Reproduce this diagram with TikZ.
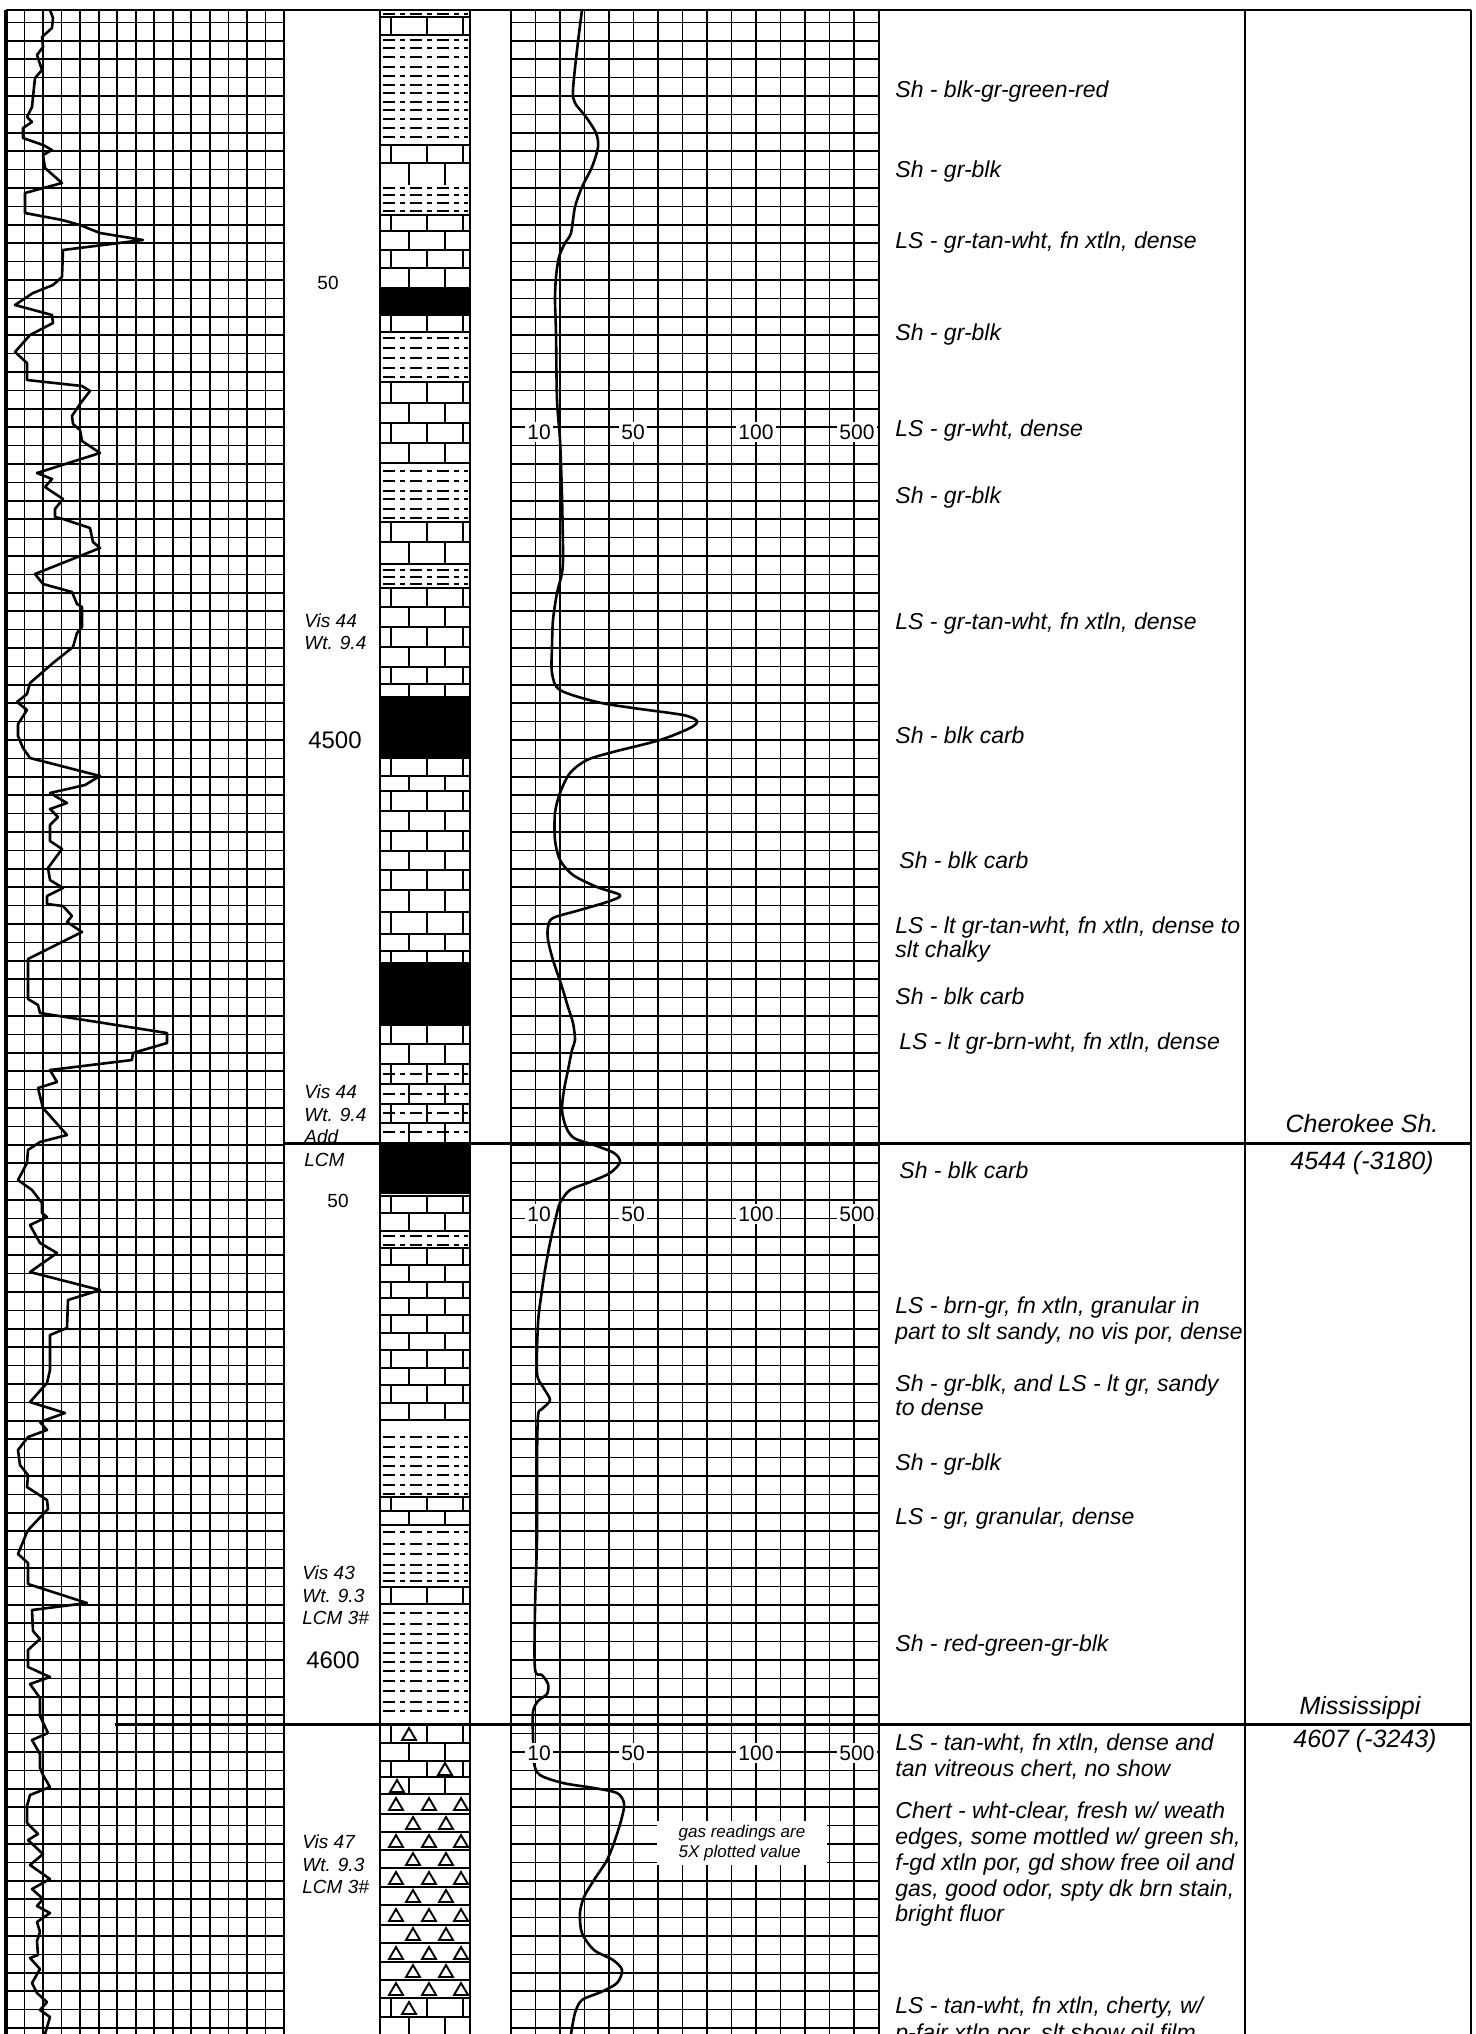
\documentclass[tikz,border=0pt]{standalone}
\usepackage{fontspec}
\setmainfont{Liberation Sans}
\newcommand\lsA[2]{\draw[lith] (380,#1) -- (470,#1) (391,#1) -- (391,#2) (427,#1) -- (427,#2) (463,#1) -- (463,#2);}
\newcommand\lsB[2]{\draw[lith] (380,#1) -- (470,#1) (409,#1) -- (409,#2) (445,#1) -- (445,#2);}
\newcommand\lsline[1]{\draw[lith] (380,#1) -- (470,#1);}
\newcommand\shlines[1]{\foreach \sy in {#1}{\draw[shaledash] (383,\sy) -- (468,\sy);}}
\newcommand\blkbed[2]{\fill[black] (380,#1) rectangle (470,#2);}
\newcommand\slmid[1]{\draw[shaledash] (383,#1) -- (468,#1);}
\newcommand\trg[2]{\draw[lith] ({#1-7},{#2+6}) -- (#1,{#2-6}) -- ({#1+7},{#2+6}) -- cycle;}
\newcommand\chthree[2]{\lsline{#1}\trg{396}{#2}\trg{429}{#2}\trg{461}{#2}}
\newcommand\chtwo[2]{\lsline{#1}\trg{413}{#2}\trg{446}{#2}}
\begin{document}
\begin{tikzpicture}[x=0.5pt,y=-0.5pt,
  gthin/.style={line width=0.8pt},
  gheavy/.style={line width=1.4pt},
  gmid/.style={line width=0.95pt},
  colborder/.style={line width=1.3pt},
  lith/.style={line width=0.95pt},
  shaledash/.style={line width=1.0pt, dash pattern=on 6pt off 2.5pt on 2.5pt off 2.5pt},
  logcurve/.style={line width=1.3pt, line join=round, line cap=round},
  formline/.style={line width=1.5pt},
  desc/.style={font=\fontsize{11.5}{13}\selectfont\itshape, anchor=base west, inner sep=0pt},
  fmt/.style={font=\fontsize{12.5}{14}\selectfont\itshape, anchor=base, inner sep=0pt},
  mud/.style={font=\fontsize{9.5}{11}\selectfont\itshape, anchor=base west, inner sep=0pt},
  dsmall/.style={font=\fontsize{9.5}{11}\selectfont, anchor=base, inner sep=0pt},
  dbig/.style={font=\fontsize{12}{14}\selectfont, anchor=base, inner sep=0pt},
  glbl/.style={font=\fontsize{10.5}{12}\selectfont, fill=white, inner sep=1.2pt}
]
\useasboundingbox (0,0) rectangle (1476,2034);
\begin{scope}
\clip (0,0) rectangle (1476,2034);
\fill[white] (0,0) rectangle (1476,2034);

% ---------- depth grid (left track and gas track) ----------
\foreach \k in {1,...,110}{
  \pgfmathsetmacro\gy{280+(2*\k-30)*9.2}
  \pgfmathtruncatemacro\hv{mod(\k,5)}
  \ifnum\hv=0
    \draw[gheavy] (6,\gy) -- (284,\gy) (511,\gy) -- (879,\gy);
  \else
    \draw[gthin] (6,\gy) -- (284,\gy) (511,\gy) -- (879,\gy);
  \fi
}
\foreach \i in {1,...,14}{\draw[gthin] ({6+18.53*\i},10) -- ({6+18.53*\i},2034);}
\foreach \i in {5,10}{\draw[gmid] ({6+18.53*\i},10) -- ({6+18.53*\i},2034);}
\foreach \i in {1,...,14}{\draw[gthin] ({511+24.5*\i},10) -- ({511+24.5*\i},2034);}
\foreach \i in {5,10,14}{\draw[gmid] ({511+24.5*\i},10) -- ({511+24.5*\i},2034);}

% ---------- lithology column ----------
\shlines{14}
\lsA{17}{35} \lsline{35}
\shlines{40,48,57,67,76,85,93,102,110,119,128,137}
\lsA{145}{163} \lsB{163}{185}
\shlines{188,195,203,211}
\lsA{215}{231} \lsB{231}{250} \lsA{250}{268} \lsB{268}{287}
\blkbed{287}{315}
\lsA{315}{332} \lsline{332}
\shlines{338,348,358,368,377}
\lsA{382}{403} \lsB{403}{423} \lsA{423}{443} \lsB{443}{463} \lsline{463}
\shlines{471,481,491,499,509,518}
\lsA{522}{542} \lsB{542}{564} \lsline{564}
\shlines{570,577,584}
\lsA{588}{607} \lsB{607}{627} \lsA{627}{647} \lsB{647}{667} \lsA{667}{684} \lsB{684}{696}
\blkbed{696}{757}
\lsA{758}{776} \lsB{776}{791} \lsA{791}{811} \lsB{811}{831} \lsA{831}{851} \lsB{851}{870}
\lsA{870}{890} \lsB{890}{912} \lsA{912}{934} \lsB{934}{951} \lsA{951}{962}
\blkbed{962}{1024}
\lsA{1025}{1044} \lsB{1044}{1064}
\lsA{1064}{1084} \slmid{1074} \lsB{1084}{1104} \slmid{1094}
\lsA{1104}{1123} \slmid{1113} \lsB{1123}{1142} \slmid{1132}
\blkbed{1143}{1194}
\lsA{1196}{1213} \lsB{1213}{1231} \lsline{1231}
\shlines{1236,1245}
\lsA{1248}{1265} \lsB{1265}{1282} \lsA{1282}{1298} \lsB{1298}{1315} \lsA{1315}{1333}
\lsB{1333}{1350} \lsA{1350}{1368} \lsB{1368}{1385} \lsA{1385}{1403} \lsB{1403}{1420} \lsline{1420}
\shlines{1437,1447,1457,1466,1475,1485,1494}
\lsA{1497}{1511} \lsB{1511}{1525} \lsline{1525}
\shlines{1532,1544,1554,1565,1573,1581}
\lsA{1587}{1604} \lsline{1604}
\shlines{1613,1624,1634,1643,1653,1662,1671,1681,1691,1702,1711}
\lsA{1725}{1743} \trg{409}{1734}
\lsB{1743}{1761}
\lsA{1761}{1777} \trg{445}{1769}
\lsB{1777}{1794} \trg{397}{1786}
\chthree{1794}{1804} \chtwo{1814}{1823} \chthree{1832}{1841} \chtwo{1850}{1859}
\chthree{1868}{1878} \chtwo{1887}{1896} \chthree{1905}{1915} \chtwo{1925}{1934}
\chthree{1943}{1953} \chtwo{1962}{1971} \chthree{1980}{1989}
\lsA{1998}{2017} \trg{409}{2008}
\lsB{2017}{2034}

% ---------- drill-time curve (left track) ----------
\draw[logcurve] plot[sharp plot] coordinates {(50,10) (53,18) (52,28) (42,37) (43,47) (37,55) (42,70) (35,78) (33,97) (32,107) (27,117) (32,122) (23,128) (23,138) (43,145) (52,150) (43,155) (45,168) (62,183) (25,193) (25,213) (62,220) (80,225) (100,233) (143,240) (63,250) (62,277) (53,285) (33,293) (15,305) (52,315) (53,323) (30,335) (15,352) (27,363) (27,380) (82,386) (90,391) (80,404) (72,416) (73,424) (80,430) (82,441) (100,453) (37,473) (52,479) (45,487) (63,499) (55,509) (55,517) (63,519) (90,528) (93,542) (100,548) (35,574) (43,584) (72,592) (77,604) (82,607) (82,627) (77,633) (73,647) (53,663) (30,683) (27,694) (17,702) (27,710) (18,724) (18,736) (23,748) (30,758) (100,776) (85,785) (50,793) (67,803) (50,809) (58,817) (50,825) (50,841) (62,849) (48,868) (50,880) (63,888) (47,896) (47,904) (63,906) (72,916) (67,922) (82,932) (50,948) (28,959) (28,999) (38,1005) (40,1013) (167,1033) (167,1043) (133,1053) (132,1060) (50,1070) (57,1082) (38,1088) (43,1108) (67,1135) (40,1142) (28,1150) (27,1163) (18,1180) (32,1190) (42,1203) (42,1213) (47,1217) (30,1225) (40,1243) (57,1253) (30,1272) (100,1290) (68,1300) (67,1328) (50,1335) (50,1370) (47,1383) (30,1402) (65,1413) (40,1422) (47,1430) (28,1437) (18,1450) (20,1465) (28,1475) (27,1487) (47,1500) (48,1509) (30,1528) (27,1532) (18,1554) (28,1563) (28,1584) (87,1603) (32,1610) (33,1631) (40,1639) (28,1650) (28,1667) (50,1677) (30,1684) (40,1698) (40,1716) (48,1733) (32,1740) (40,1754) (40,1768) (43,1775) (50,1787) (30,1795) (27,1806) (27,1823) (38,1834) (28,1840) (43,1854) (30,1865) (50,1879) (32,1889) (43,1899) (37,1906) (50,1913) (37,1922) (40,1932) (37,1941) (38,1955) (30,1958) (40,1969) (32,1983) (37,1993) (47,2002) (40,2010) (50,2017) (45,2034)};

% ---------- gas curve ----------
\draw[logcurve] plot[smooth, tension=0.5] coordinates {(582,10) (577,50) (573,90) (575,103) (586,117) (596,133) (598,147) (592,167) (582,187) (575,207) (571,233) (565,243) (559,257) (556,277) (555,300) (556,333) (557,400) (560,440) (562,497) (563,553) (562,573) (557,593) (553,620) (552,647) (552,673) (560,690) (597,702) (633,708) (683,715) (697,721) (690,728) (660,740) (613,752) (587,760) (570,773) (560,793) (555,813) (555,840) (560,860) (573,875) (597,887) (620,895) (610,901) (580,910) (553,918) (548,927) (548,940) (553,960) (562,987) (568,1007) (573,1023) (575,1040) (572,1050) (568,1070) (564,1090) (562,1110) (566,1127) (574,1138) (594,1145) (614,1153) (620,1162) (610,1173) (590,1182) (570,1190) (560,1203) (556,1217) (550,1243) (545,1270) (541,1297) (538,1323) (537,1373) (543,1387) (550,1400) (542,1409) (538,1416) (537,1466) (537,1537) (535,1609) (535,1669) (542,1675) (548,1684) (547,1694) (538,1701) (533,1712) (533,1737) (534,1763) (540,1775) (563,1783) (594,1788) (617,1793) (624,1803) (622,1817) (615,1840) (607,1860) (594,1880) (584,1897) (580,1913) (582,1933) (594,1950) (613,1960) (622,1970) (617,1983) (601,1992) (582,2000) (575,2013) (571,2034)};

% ---------- column borders ----------
\draw[colborder] (6,10) -- (1471,10);
\draw[line width=2pt] (6,10) -- (6,2034);
\draw[colborder] (284,10) -- (284,2034);
\draw[colborder] (380,10) -- (380,2034);
\draw[colborder] (470,10) -- (470,2034);
\draw[colborder] (511,10) -- (511,2034);
\draw[colborder] (879,10) -- (879,2034);
\draw[colborder] (1245,10) -- (1245,2034);
\draw[colborder] (1471,10) -- (1471,2034);

% ---------- gas scale labels ----------
\foreach \ly/\nm in {432/a,1214/b,1753/c}{
  \node[glbl] (g10\nm) at (539,\ly) {10};
  \node[glbl] (g50\nm) at (633,\ly) {50};
  \node[glbl] (g100\nm) at (756,\ly) {100};
  \node[glbl] (g500\nm) at (857,\ly) {500};
}
\node[fill=white, align=left, inner xsep=11pt, inner ysep=2pt,
      font=\fontsize{8.5}{10}\selectfont\itshape] (gasnote) at (742,1843) {gas readings are\\5X plotted value};

% ---------- depth column ----------
\node[dsmall] (d4450) at (328,289) {50};
\node[dbig] (d4500) at (335,748) {4500};
\node[dsmall] (d4550) at (338,1207) {50};
\node[dbig] (d4600) at (333,1668) {4600};
\node[mud] (m1a) at (304,627) {Vis 44};
\node[mud] (m1b) at (304,649) {Wt. 9.4};
\node[mud] (m2a) at (304,1098) {Vis 44};
\node[mud] (m2b) at (304,1121) {Wt. 9.4};
\node[mud] (m2c) at (304,1143) {Add};
\node[mud] (m2d) at (304,1166) {LCM};
\node[mud] (m3a) at (302,1579) {Vis 43};
\node[mud] (m3b) at (302,1602) {Wt. 9.3};
\node[mud] (m3c) at (302,1624) {LCM 3\#};
\node[mud] (m4a) at (302,1848) {Vis 47};
\node[mud] (m4b) at (302,1871) {Wt. 9.3};
\node[mud] (m4c) at (302,1893) {LCM 3\#};

% ---------- descriptions ----------
\node[desc] (t1) at (895,97) {Sh - blk-gr-green-red};
\node[desc] (t2) at (895,177) {Sh - gr-blk};
\node[desc] (t3) at (895,248) {LS - gr-tan-wht, fn xtln, dense};
\node[desc] (t4) at (895,340) {Sh - gr-blk};
\node[desc] (t5) at (895,436) {LS - gr-wht, dense};
\node[desc] (t6) at (895,503) {Sh - gr-blk};
\node[desc] (t7) at (895,629) {LS - gr-tan-wht, fn xtln, dense};
\node[desc] (t8) at (895,743) {Sh - blk carb};
\node[desc] (t9) at (899,868) {Sh - blk carb};
\node[desc] (t10a) at (895,933) {LS - lt gr-tan-wht, fn xtln, dense to};
\node[desc] (t10b) at (895,957) {slt chalky};
\node[desc] (t11) at (895,1004) {Sh - blk carb};
\node[desc] (t12) at (899,1049) {LS - lt gr-brn-wht, fn xtln, dense};
\node[desc] (t13) at (899,1178) {Sh - blk carb};
\node[desc] (t14a) at (895,1313) {LS - brn-gr, fn xtln, granular in};
\node[desc] (t14b) at (895,1339) {part to slt sandy, no vis por, dense};
\node[desc] (t15a) at (895,1391) {Sh - gr-blk, and LS - lt gr, sandy};
\node[desc] (t15b) at (895,1415) {to dense};
\node[desc] (t16) at (895,1470) {Sh - gr-blk};
\node[desc] (t17) at (895,1524) {LS - gr, granular, dense};
\node[desc] (t18) at (895,1651) {Sh - red-green-gr-blk};
\node[desc] (t19a) at (895,1750) {LS - tan-wht, fn xtln, dense and};
\node[desc] (t19b) at (895,1776) {tan vitreous chert, no show};
\node[desc] (t20a) at (895,1818) {Chert - wht-clear, fresh w/ weath};
\node[desc] (t20b) at (895,1844) {edges, some mottled w/ green sh,};
\node[desc] (t20c) at (895,1870) {f-gd xtln por, gd show free oil and};
\node[desc] (t20d) at (895,1896) {gas, good odor, spty dk brn stain,};
\node[desc] (t20e) at (895,1921) {bright fluor};
\node[desc] (t21a) at (895,2013) {LS - tan-wht, fn xtln, cherty, w/};
\node[desc] (t21b) at (895,2040) {p-fair xtln por, slt show oil film};

% ---------- formation tops ----------
\node[fmt] (f1a) at (1362,1132) {Cherokee Sh.};
\node[fmt] (f1b) at (1362,1169) {4544 (-3180)};
\node[fmt] (f2a) at (1360,1714) {Mississippi};
\node[fmt] (f2b) at (1365,1747) {4607 (-3243)};

% ---------- formation boundary lines ----------
\coordinate (cherL) at (284,1143);
\coordinate (cherR) at (1471,1143);
\coordinate (missL) at (115,1724);
\coordinate (missR) at (1471,1724);
\draw[formline] (cherL) -- (cherR);
\draw[formline] (missL) -- (missR);
\end{scope}
\end{tikzpicture}
\end{document}
